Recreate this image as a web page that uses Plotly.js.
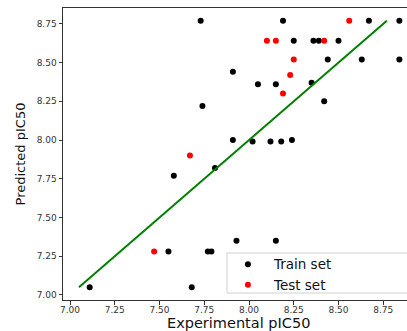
<!DOCTYPE html>
<html>
<head>
<meta charset="utf-8">
<script src="https://cdn.plot.ly/plotly-3.0.1.min.js"></script>
<style>html,body{margin:0;padding:0;background:#fff;}#chart{width:407px;height:331px;}</style>
</head>
<body>
<div id="chart"></div>
<script>
// Train set (experimental, predicted)
const trainX = [7.73, 8.19, 8.67, 8.84, 8.25, 8.36, 8.39, 8.50, 8.44, 8.63, 8.84, 7.91, 8.05, 8.15, 8.35, 8.42, 7.74, 7.91, 8.02, 8.12, 8.18, 8.24, 7.81, 7.58, 7.55, 7.77, 7.79, 7.93, 8.15, 7.11, 7.68];
const trainY = [8.77, 8.77, 8.77, 8.77, 8.64, 8.64, 8.64, 8.64, 8.52, 8.52, 8.52, 8.44, 8.36, 8.36, 8.37, 8.25, 8.22, 8.00, 7.99, 7.99, 7.99, 8.00, 7.82, 7.77, 7.28, 7.28, 7.28, 7.35, 7.35, 7.05, 7.05];
// Test set
const testX = [8.56, 8.10, 8.15, 8.42, 8.25, 8.23, 8.19, 7.67, 7.47];
const testY = [8.77, 8.64, 8.64, 8.64, 8.52, 8.42, 8.30, 7.90, 7.28];
// Fit line endpoints
const lineX = [7.05, 8.77];
const lineY = [7.05, 8.77];
const xTicks = [7.00, 7.25, 7.50, 7.75, 8.00, 8.25, 8.50, 8.75];
const yTicks = [7.00, 7.25, 7.50, 7.75, 8.00, 8.25, 8.50, 8.75];
const xTitle = 'Experimental pIC50';
const yTitle = 'Predicted pIC50';

const font = 'DejaVu Sans, sans-serif';
const traces = [
  {x: trainX, y: trainY, mode: 'markers', type: 'scatter', name: 'Train set',
   marker: {color: '#000000', size: 6}},
  {x: testX, y: testY, mode: 'markers', type: 'scatter', name: 'Test set',
   marker: {color: '#ff0000', size: 6}},
  {x: lineX, y: lineY, mode: 'lines', type: 'scatter', showlegend: false,
   line: {color: '#008000', width: 2}}
];
const layout = {
  width: 407, height: 331,
  margin: {l: 63, r: 0, t: 8, b: 31},
  paper_bgcolor: '#ffffff', plot_bgcolor: '#ffffff',
  font: {family: font, color: '#222', size: 9},
  showlegend: true,
  legend: {x: 0.462, y: 0.175, xanchor: 'left', yanchor: 'top', itemwidth: 42,
    bgcolor: 'rgba(0,0,0,0)', borderwidth: 0,
    font: {family: font, size: 13.5, color: '#111'}, tracegroupgap: 0},
  shapes: [{type: 'rect', xref: 'paper', yref: 'paper', x0: 0.4767, x1: 1.1, y0: 0.024, y1: 0.161,
    line: {color: '#d0d0d0', width: 1}, fillcolor: 'rgba(255,255,255,0.8)', layer: 'above'}],
  annotations: [{text: xTitle, xref: 'paper', yref: 'paper', x: 0.51, y: -0.078,
    xanchor: 'center', yanchor: 'middle', showarrow: false,
    font: {size: 14.5, family: font, color: '#111'}}],
  xaxis: {range: [6.9609, 8.8827], tickvals: xTicks, ticktext: xTicks.map(v => v.toFixed(2)),
    showgrid: false, zeroline: false, showline: true, mirror: true, linecolor: '#333', linewidth: 1,
    ticks: 'outside', ticklen: 3.5, tickcolor: '#333', ticklabelstandoff: -2,
    tickfont: {size: 9, family: font, color: '#333'}},
  yaxis: {range: [6.9677, 8.8516], tickvals: yTicks, ticktext: yTicks.map(v => v.toFixed(2)),
    showgrid: false, zeroline: false, showline: true, mirror: false, linecolor: '#333', linewidth: 1,
    ticks: 'outside', ticklen: 3.5, tickcolor: '#333', tickfont: {size: 9, family: font, color: '#333'},
    title: {text: yTitle, font: {size: 13, family: font, color: '#111'}, standoff: 8}}
};
Plotly.newPlot('chart', traces, layout, {displayModeBar: false, staticPlot: true});
</script>
</body>
</html>
